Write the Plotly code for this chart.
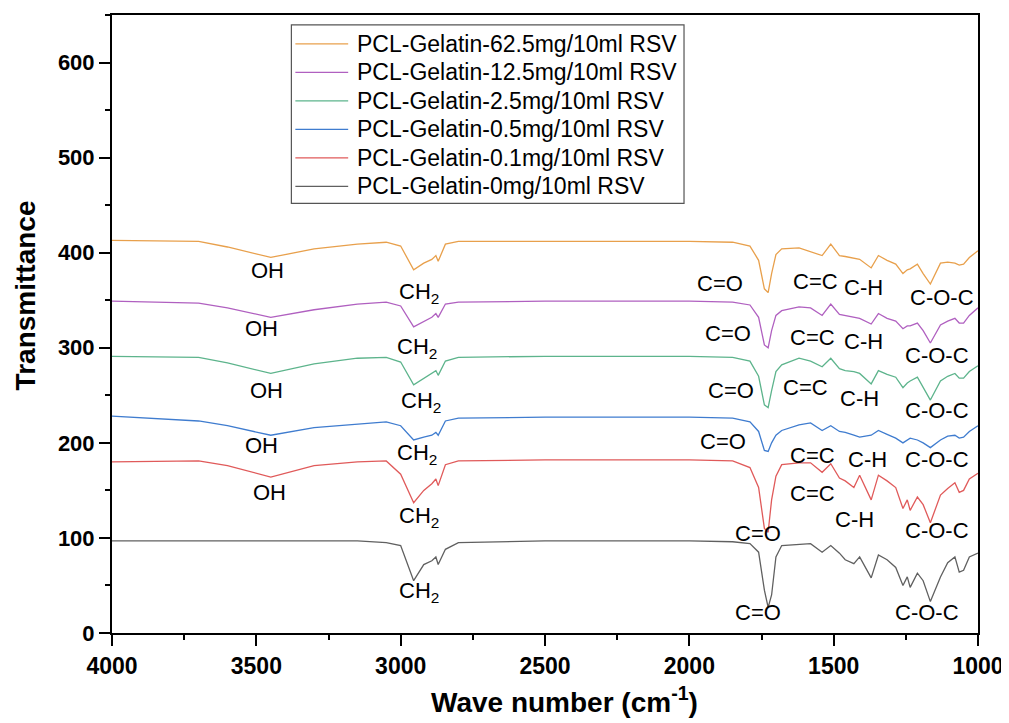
import plotly.graph_objects as go

wavenumber = [4000, 3700, 3600, 3450, 3300, 3150, 3050, 3000, 2955, 2920,
              2892, 2878, 2870, 2845, 2800, 2500, 2000, 1850, 1790, 1760,
              1740, 1727, 1715, 1700, 1680, 1620, 1580, 1540, 1510, 1480,
              1460, 1430, 1410, 1370, 1345, 1315, 1285, 1260, 1245, 1235,
              1210, 1190, 1165, 1130, 1105, 1080, 1065, 1050, 1030, 1000]

t_0mg = [97, 97, 97, 97, 97, 97, 95, 92, 55, 72,
         76, 80, 72, 88, 95, 97, 97, 96, 94, 85,
         45, 27, 40, 80, 92, 93, 94, 85, 92, 84,
         77, 73, 80, 58, 82, 77, 69, 50, 59, 48,
         63, 55, 33, 59, 74, 80, 64, 66, 80, 84]
t_01mg = [180, 181, 176, 164, 176, 180, 181, 167, 137, 150,
          157, 162, 155, 177, 181, 182, 182, 181, 174, 153,
          110, 106, 140, 165, 177, 179, 179, 169, 178, 163,
          160, 153, 166, 140, 166, 160, 153, 131, 140, 129,
          143, 135, 116, 145, 152, 158, 148, 150, 162, 168]
t_05mg = [228, 223, 218, 208, 216, 220, 222, 218, 203, 206,
          208, 211, 208, 223, 226, 227, 227, 226, 222, 212,
          192, 191, 200, 208, 213, 219, 221, 213, 218, 212,
          211, 208, 206, 208, 213, 209, 205, 200, 203, 205,
          203, 200, 195, 203, 207, 208, 205, 206, 212, 218]
t_25mg = [291, 290, 284, 273, 283, 289, 290, 285, 261, 268,
          273, 276, 271, 286, 290, 291, 291, 290, 286, 270,
          240, 237, 255, 275, 282, 289, 286, 280, 289, 278,
          276, 275, 273, 262, 276, 272, 269, 258, 263, 265,
          269, 258, 245, 265, 270, 273, 268, 268, 275, 281]
t_125mg = [349, 347, 342, 332, 340, 346, 348, 344, 322, 328,
           332, 336, 332, 346, 348, 349, 349, 348, 345, 332,
           303, 300, 318, 334, 339, 343, 342, 334, 346, 335,
           334, 332, 331, 325, 336, 331, 328, 320, 323, 323,
           326, 318, 305, 324, 328, 331, 326, 326, 334, 342]
t_625mg = [413, 412, 406, 395, 404, 409, 411, 407, 382, 389,
           393, 397, 391, 409, 412, 412, 412, 411, 407, 392,
           362, 358, 378, 398, 404, 405, 401, 397, 409, 397,
           396, 394, 393, 384, 397, 392, 388, 378, 382, 383,
           388, 378, 367, 389, 390, 389, 387, 388, 395, 402]

series_names = ["PCL-Gelatin-62.5mg/10ml RSV", "PCL-Gelatin-12.5mg/10ml RSV",
                "PCL-Gelatin-2.5mg/10ml RSV", "PCL-Gelatin-0.5mg/10ml RSV",
                "PCL-Gelatin-0.1mg/10ml RSV", "PCL-Gelatin-0mg/10ml RSV"]
series_values = [t_625mg, t_125mg, t_25mg, t_05mg, t_01mg, t_0mg]
series_colors = ["#E8A04C", "#B060C0", "#5DB48C", "#3F7CCF", "#E05A5A", "#606060"]

label_text = ["OH", "CH<sub>2</sub>", "C=O", "C=C", "C-H", "C-O-C",
              "OH", "CH<sub>2</sub>", "C=O", "C=C", "C-H", "C-O-C",
              "OH", "CH<sub>2</sub>", "C=O", "C=C", "C-H", "C-O-C",
              "OH", "CH<sub>2</sub>", "C=O", "C=C", "C-H", "C-O-C",
              "OH", "CH<sub>2</sub>", "C=O", "C=C", "C-H", "C-O-C",
              "CH<sub>2</sub>", "C=O", "C-O-C"]
label_x = [3461, 2937, 1894, 1563, 1397, 1124,
           3482, 2944, 1867, 1573, 1397, 1142,
           3465, 2930, 1856, 1597, 1410, 1142,
           3482, 2944, 1884, 1573, 1383, 1142,
           3455, 2937, 1763, 1573, 1428, 1142,
           2937, 1763, 1176]
label_y = [381, 358, 368, 370, 363, 353,
           320, 300, 315, 311, 307, 292,
           255, 243, 255, 258, 247, 234,
           197, 188, 201, 187, 182, 182,
           148, 122, 105, 147, 119, 108,
           43, 22, 22]

x_title = "Wave number (cm<sup>-1</sup>)"
y_title = "Transmittance"

FONT = "Arial, Liberation Sans, sans-serif"

fig = go.Figure()
for name, vals, col in zip(series_names, series_values, series_colors):
    fig.add_trace(go.Scatter(x=wavenumber, y=vals, mode="lines", name=name,
                             line=dict(color=col, width=1.3), showlegend=False))

for t, x, y in zip(label_text, label_x, label_y):
    fig.add_annotation(x=x, y=y, text=t, showarrow=False,
                       font=dict(size=22, color="black", family=FONT))

plot_w, plot_h = 869.0, 620.0
def px_to_paper_x(px):
    return (px - 112) / plot_w
def py_to_paper_y(py):
    return (633 - py) / plot_h

# legend box built from the series names / colours
fig.add_shape(type="rect", xref="paper", yref="paper",
              x0=px_to_paper_x(292), x1=px_to_paper_x(686),
              y0=py_to_paper_y(202), y1=py_to_paper_y(23),
              line=dict(color="#555", width=1.2), fillcolor="white", layer="above")
for i, (name, col) in enumerate(zip(series_names, series_colors)):
    yc = py_to_paper_y(42 + 28.6 * i)
    fig.add_shape(type="line", xref="paper", yref="paper",
                  x0=px_to_paper_x(296), x1=px_to_paper_x(349), y0=yc, y1=yc,
                  line=dict(color=col, width=1.3), layer="above")
    fig.add_annotation(xref="paper", yref="paper", x=px_to_paper_x(356), y=yc,
                       xanchor="left", yanchor="middle", text=name, showarrow=False,
                       font=dict(size=23, color="black", family=FONT))

# axis titles
fig.add_annotation(xref="paper", yref="paper", x=px_to_paper_x(566),
                   y=py_to_paper_y(700), text=x_title, showarrow=False,
                   xanchor="center", yanchor="middle",
                   font=dict(size=28, color="black", family=FONT, weight="bold"))
fig.add_annotation(xref="paper", yref="paper", x=px_to_paper_x(25),
                   y=py_to_paper_y(294), text=y_title, showarrow=False,
                   textangle=-90, xanchor="center", yanchor="middle",
                   font=dict(size=28, color="black", family=FONT, weight="bold"))

fig.update_layout(
    width=1001, height=715,
    margin=dict(l=104, r=28, t=5, b=90),
    paper_bgcolor="white", plot_bgcolor="white",
    font=dict(family=FONT, color="black"),
    showlegend=False,
    xaxis=dict(range=[4000, 1000], showline=True, linecolor="black", linewidth=2,
               mirror=True, ticks="outside", ticklen=11, tickwidth=2,
               tickcolor="black", dtick=500, tick0=1000,
               minor=dict(dtick=250, ticks="outside", ticklen=5, tickwidth=1.5,
                          tickcolor="black"),
               showgrid=False, zeroline=False,
               tickfont=dict(size=23, color="black", family=FONT, weight="bold")),
    yaxis=dict(range=[0, 650], showline=True, linecolor="black", linewidth=2,
               mirror=True, ticks="outside", ticklen=11, tickwidth=2,
               tickcolor="black", dtick=100,
               minor=dict(dtick=50, ticks="outside", ticklen=5, tickwidth=1.5,
                          tickcolor="black"),
               showgrid=False, zeroline=False,
               tickfont=dict(size=22, color="black", family=FONT, weight="bold")),
)

fig.write_html("out.html")
